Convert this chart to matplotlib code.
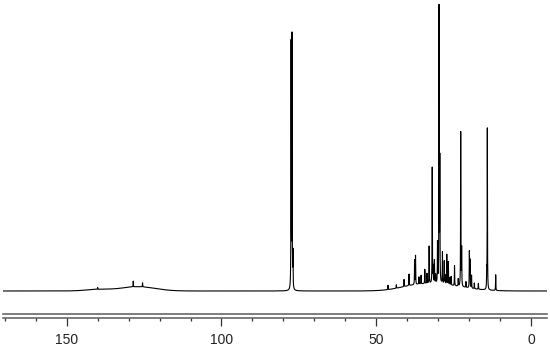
import numpy as np
import matplotlib.pyplot as plt

# sharp lines: chemical shift (ppm) and relative height (tallest = 100)
peak_ppm = [77.5, 77.2, 76.9,
            29.7, 29.45, 31.9, 22.7, 14.1,
            32.9, 37.3, 37.6, 34.3, 39.4, 30.2, 27.2, 28.0, 26.7, 24.7,
            22.4, 19.7, 19.9, 19.2, 11.4, 31.6, 46.2, 28.6, 31.2, 14.3,
            41.0, 35.5, 33.6, 25.8, 23.5, 17.0, 43.5, 128.5, 125.5, 140.0,
            36.2, 30.8, 27.7, 26.2, 21.0, 18.3]
peak_height = [85.5, 88.0, 12.0,
               96.0, 42.0, 40.5, 54.0, 56.5,
               13.0, 10.0, 8.5, 5.0, 4.0, 14.0, 10.5, 8.0, 8.0, 7.0,
               13.0, 9.5, 12.5, 4.5, 5.5, 5.5, 1.5, 11.0, 8.0, 5.5,
               2.5, 3.0, 3.5, 3.0, 2.5, 2.0, 1.2, 2.0, 1.4, 0.6,
               2.5, 3.0, 3.0, 2.5, 2.0, 2.0]

# broad humps under the lines
hump_ppm = [30.0, 38.0, 127.0, 140.0]
hump_height = [2.2, 0.8, 1.5, 0.5]
hump_sigma = [8.0, 5.0, 5.5, 4.0]

tick_minor = list(range(170, -1, -10))
tick_major = [150, 100, 50, 0]

x = np.linspace(170.5, -5.1, 40000)
y = np.zeros_like(x)
hw = 0.05
for p, h in zip(peak_ppm, peak_height):
    y += h * hw**2 / ((x - p)**2 + hw**2)
for p, h, s in zip(hump_ppm, hump_height, hump_sigma):
    y += h * np.exp(-(x - p)**2 / (2 * s**2))

W, H = 550, 349
fig = plt.figure(figsize=(W / 100, H / 100), dpi=100)
plt.rcParams['font.family'] = ['Liberation Sans', 'DejaVu Sans']

left = 3.25 / W
width = 543.5 / W

# spectrum
ax = fig.add_axes([left, (H - 300) / H, width, 300 / H])
ax.plot(x, y, color='black', lw=0.8)
ax.set_xlim(170.5, -5.1)
ax.set_ylim(-3.15, 101.75)
ax.axis('off')

# ppm ruler drawn as double line with ticks
rx = fig.add_axes([left, (H - 318) / H, width, 4 / H])
rx.set_xlim(170.5, -5.1)
rx.set_ylim(0, 1)
rx.set_yticks([])
for s in ['left', 'right']:
    rx.spines[s].set_visible(False)
for s in ['top', 'bottom']:
    rx.spines[s].set_color('#5a5a5a')
    rx.spines[s].set_linewidth(1.1)
rx.set_xticks(tick_major)
rx.set_xticklabels([str(t) for t in tick_major])
rx.set_xticks([t for t in tick_minor if t not in tick_major], minor=True)
rx.tick_params(axis='x', which='major', length=6, width=0.9, color='#333333',
               pad=4.5, labelsize=10, labelcolor='#222222')
rx.tick_params(axis='x', which='minor', length=2.4, width=0.9, color='#333333')
rx.patch.set_visible(False)

fig.savefig('out.png', dpi=100)
